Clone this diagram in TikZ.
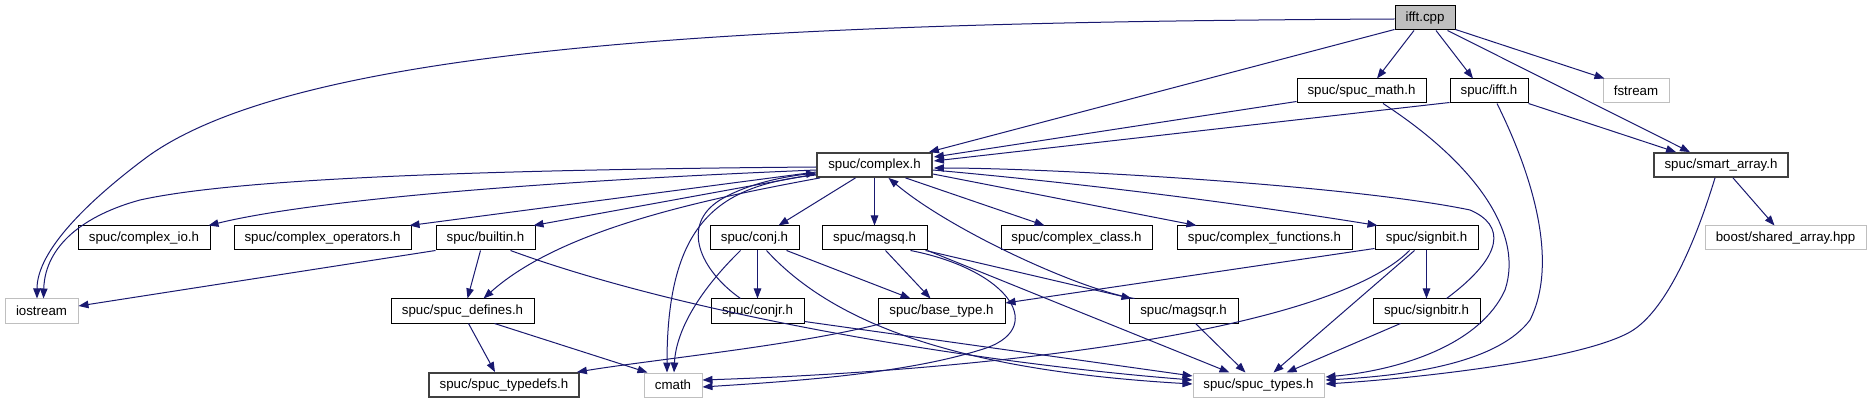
\documentclass[tikz,border=0pt]{standalone}
\usepackage{fontspec}
\setmainfont{Liberation Sans}
\usetikzlibrary{arrows.meta}
\definecolor{edgec}{HTML}{191970}
\definecolor{grayb}{HTML}{BFBFBF}
\definecolor{darkb}{HTML}{404040}
\tikzset{
  nb/.style={draw=black, line width=1pt, fill=white, minimum height=24pt, inner sep=0pt, font=\fontsize{13.3}{16}\selectfont},
  gb/.style={nb, draw=grayb},
  tb/.style={nb, draw=darkb, line width=1.8pt},
  ed/.style={draw=edgec, line width=1pt, -{Triangle[length=10pt,width=7.5pt]}},
}
\begin{document}
\begin{tikzpicture}[x=1pt,y=-1pt]
\useasboundingbox[fill=white] (0,0) rectangle (1871,403);
% row 1
\node[nb, fill=grayb, minimum width=60pt] (ifftcpp) at (1425,18) {ifft.cpp};
% row 2
\node[nb, minimum width=129pt] (spucmath) at (1361.5,91) {spuc/spuc\_math.h};
\node[nb, minimum width=78pt] (iffth) at (1489,91) {spuc/ifft.h};
\node[gb, minimum width=66pt] (fstream) at (1636,91) {fstream};
% row 3
\node[tb, minimum width=115pt] (complex) at (874.5,165) {spuc/complex.h};
\node[tb, minimum width=134pt] (smartarray) at (1721,165) {spuc/smart\_array.h};
% row 4
\node[nb, minimum width=132pt] (complexio) at (144,238) {spuc/complex\_io.h};
\node[nb, minimum width=177pt] (complexops) at (322.5,238) {spuc/complex\_operators.h};
\node[nb, minimum width=99pt] (builtin) at (485.5,238) {spuc/builtin.h};
\node[nb, minimum width=89pt] (conj) at (754.5,238) {spuc/conj.h};
\node[nb, minimum width=105pt] (magsq) at (874.5,238) {spuc/magsq.h};
\node[nb, minimum width=151pt] (complexclass) at (1076.5,238) {spuc/complex\_class.h};
\node[nb, minimum width=175pt] (complexfunc) at (1264.5,238) {spuc/complex\_functions.h};
\node[nb, minimum width=103pt] (signbit) at (1426.5,238) {spuc/signbit.h};
\node[gb, minimum width=161pt] (boostsa) at (1785.5,238) {boost/shared\_array.hpp};
% row 5
\node[gb, minimum width=73pt] (iostream) at (41.5,311) {iostream};
\node[nb, minimum width=143pt] (defines) at (462.5,311) {spuc/spuc\_defines.h};
\node[nb, minimum width=93pt] (conjr) at (757.5,311) {spuc/conjr.h};
\node[nb, minimum width=127pt] (basetype) at (941.5,311) {spuc/base\_type.h};
\node[nb, minimum width=109pt] (magsqr) at (1183.5,311) {spuc/magsqr.h};
\node[nb, minimum width=107pt] (signbitr) at (1426.5,311) {spuc/signbitr.h};
% row 6
\node[tb, minimum width=150pt] (typedefs) at (504,385) {spuc/spuc\_typedefs.h};
\node[gb, minimum width=58pt] (cmath) at (673,385) {cmath};
\node[gb, minimum width=131pt] (types) at (1258.5,385) {spuc/spuc\_types.h};

% edges from ifft.cpp
\draw[ed] ([yshift=-1pt]ifftcpp.west) .. controls (800,22) and (300,40) .. (143,160) .. controls (90,200) and (37,250) .. ([xshift=-4.5pt]iostream.north);
\draw[ed] ([yshift=1pt]ifftcpp.south west) -- ([xshift=-4pt]complex.north east);
\draw[ed] ([xshift=-11pt]ifftcpp.south) -- ([xshift=15.5pt]spucmath.north);
\draw[ed] ([xshift=11pt]ifftcpp.south) -- ([xshift=-16pt]iffth.north);
\draw[ed] ([xshift=-8pt]ifftcpp.south east) -- ([xshift=-31pt]smartarray.north);
\draw[ed] ([yshift=1pt]ifftcpp.south east) -- ([xshift=2pt]fstream.north west);
% spuc_math.h
\draw[ed] ([yshift=2pt]spucmath.south west) -- ([xshift=1pt,yshift=8pt]complex.east);
\draw[ed] ([xshift=21.5pt]spucmath.south) .. controls (1470,160) and (1525,230) .. (1505,290) .. controls (1480,345) and (1400,370) .. ([xshift=1pt,yshift=8pt]types.east);
% ifft.h
\draw[ed] ([yshift=1pt]iffth.south west) -- ([xshift=1pt,yshift=4pt]complex.east);
\draw[ed] (iffth.south east) -- ([xshift=-45pt]smartarray.north);
\draw[ed] ([xshift=8pt]iffth.south) .. controls (1530,170) and (1560,260) .. (1530,320) .. controls (1500,360) and (1420,375) .. ([xshift=1pt,yshift=5pt]types.east);
% smart_array.h
\draw[ed] ([xshift=12pt]smartarray.south) -- ([xshift=-11pt]boostsa.north);
\draw[ed] ([xshift=-6pt]smartarray.south) .. controls (1690,260) and (1660,315) .. (1630,332) .. controls (1580,360) and (1420,378) .. ([xshift=1pt,yshift=1pt]types.east);
% complex.h
\draw[ed] ([yshift=-2pt]complex.west) .. controls (450,170) and (230,180) .. (140,200) .. controls (85,215) and (45,245) .. ([xshift=2pt]iostream.north);
\draw[ed] ([yshift=-5pt]complex.west) .. controls (500,183) and (300,203) .. ([xshift=-2pt]complexio.north east);
\draw[ed] ([yshift=-7pt]complex.west) -- ([xshift=-2pt]complexops.north east);
\draw[ed] ([yshift=-9pt]complex.west) -- ([xshift=-2pt]builtin.north east);
\draw[ed] ([xshift=4pt]complex.south west) .. controls (700,200) and (560,230) .. ([xshift=21pt]defines.north);
\draw[ed] ([yshift=-10pt]complex.west) .. controls (720,185) and (667,220) .. ([xshift=-6pt]cmath.north);
\draw[ed] ([xshift=-19pt]complex.south) -- ([xshift=24pt]conj.north);
\draw[ed] (complex.south) -- (magsq.north);
\draw[ed] ([xshift=31pt]complex.south) -- ([xshift=-32pt]complexclass.north);
\draw[ed] ([yshift=-9pt]complex.east) -- ([xshift=-68pt]complexfunc.north);
\draw[ed] ([yshift=-5pt]complex.east) .. controls (1100,185) and (1250,205) .. ([xshift=3pt]signbit.north west);
% builtin.h
\draw[ed] (builtin.south west) -- ([yshift=5pt]iostream.east);
\draw[ed] ([xshift=-5pt]builtin.south) -- ([xshift=5pt]defines.north);
\draw[ed] ([xshift=25pt]builtin.south) .. controls (700,320) and (1000,365) .. ([yshift=5pt]types.west);
% spuc_defines.h
\draw[ed] ([xshift=6pt]defines.south) -- ([xshift=-9pt]typedefs.north);
\draw[ed] ([xshift=32pt]defines.south) -- ([xshift=4pt]cmath.north west);
% conj.h
\draw[ed] ([xshift=3pt]conj.south) -- (conjr.north);
\draw[ed] ([xshift=-14pt]conj.south) .. controls (700,290) and (676,330) .. ([xshift=1pt]cmath.north);
\draw[ed] ([xshift=32pt]conj.south) -- ([xshift=-31pt]basetype.north);
\draw[ed] ([xshift=12pt]conj.south) .. controls (830,320) and (950,370) .. ([yshift=1pt]types.west);
% conjr.h
\draw[ed] ([xshift=-17pt]conjr.north) .. controls (700,270) and (680,225) .. (720,200) .. controls (750,182) and (790,176) .. ([yshift=-8pt]complex.west);
\draw[ed] ([yshift=2pt]conjr.south east) -- ([yshift=9pt]types.west);
% magsq.h
\draw[ed] ([xshift=11pt]magsq.south) -- ([xshift=-11pt]basetype.north);
\draw[ed] ([xshift=-2pt]magsq.south east) -- ([xshift=3pt]magsqr.north west);
\draw[ed] (magsq.south east) -- ([xshift=-29pt]types.north);
\draw[ed] ([xshift=-17pt]magsq.south east) .. controls (1010,270) and (1050,330) .. (980,350) .. controls (900,375) and (780,382) .. ([yshift=-2pt]cmath.east);
% magsqr.h
\draw[ed] ([xshift=6pt]magsqr.north west) .. controls (1080,290) and (950,230) .. ([xshift=14pt]complex.south);
\draw[ed] ([xshift=12pt]magsqr.south) -- ([xshift=-13pt]types.north);
% base_type.h
\draw[ed] ([xshift=4pt]basetype.south west) .. controls (800,345) and (650,360) .. ([xshift=-3pt]typedefs.north east);
% signbit.h
\draw[ed] ([yshift=2pt]signbit.south west) -- ([yshift=8pt]basetype.east);
\draw[ed] ([xshift=-17pt]signbit.south) .. controls (1330,330) and (1000,370) .. ([yshift=5pt]cmath.east);
\draw[ed] ([xshift=-12pt]signbit.south) -- ([xshift=15pt]types.north);
\draw[ed] (signbit.south) -- (signbitr.north);
% signbitr.h
\draw[ed] ([xshift=20pt]signbitr.north) .. controls (1505,255) and (1505,225) .. (1470,210) .. controls (1350,185) and (1050,168) .. ([xshift=1pt,yshift=-3pt]complex.east);
\draw[ed] ([xshift=-26pt]signbitr.south) -- ([xshift=28pt]types.north);
\end{tikzpicture}
\end{document}
